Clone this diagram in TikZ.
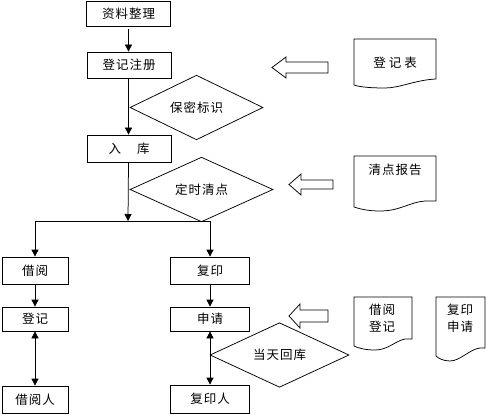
\documentclass[tikz,border=0pt]{standalone}
\usepackage{fontspec}
\newfontfamily\cjk[LetterSpace=8]{Noto Sans CJK SC}
\usetikzlibrary{shapes.geometric,arrows.meta}
\begin{document}
\begin{tikzpicture}[x=1pt,y=-1pt,
  font=\cjk\fontsize{12.5}{15}\selectfont,
  line width=0.75pt,
  box/.style={draw,rectangle,inner sep=0pt},
  dia/.style={draw,diamond,inner sep=0pt},
  arr/.style={-{Triangle[width=7pt,length=7pt]}},
  darr/.style={{Triangle[width=7pt,length=7pt]}-{Triangle[width=7pt,length=7pt]}},
  hollow/.style={draw,line width=0.75pt},
  docu/.style={draw,line width=0.75pt}]
\useasboundingbox (0,0) rectangle (486,414);

% main column boxes
\node[box,minimum width=84pt,minimum height=25pt] (zl) at (128.5,13.5) {资料整理};
\node[box,minimum width=84pt,minimum height=26pt] (dj) at (129,65) {登记注册};
\node[box,minimum width=84pt,minimum height=27pt] (rk) at (129,148.5) {入\hspace{16pt}库};

% diamonds
\node[dia,minimum width=133pt,minimum height=57pt] (bm) at (196.5,107.5) {保密标识};
\node[dia,minimum width=143pt,minimum height=53pt] (ds) at (201.5,189.5) {定时清点};
\node[dia,minimum width=139pt,minimum height=54pt] (dt) at (279.5,355) {当天回库};

% branches
\node[box,minimum width=66pt,minimum height=27pt] (jy) at (35,270.5) {借阅};
\node[box,minimum width=66pt,minimum height=24pt] (dj2) at (35,319) {登记};
\node[box,minimum width=66pt,minimum height=27pt] (jyr) at (35,399.5) {借阅人};
\node[box,minimum width=79pt,minimum height=27pt] (fy) at (210,270.5) {复印};
\node[box,minimum width=79pt,minimum height=24pt] (sq) at (210,319) {申请};
\node[box,minimum width=79pt,minimum height=28pt] (fyr) at (210,399) {复印人};

\coordinate (br) at (128,221);

% connectors
\draw[arr,shorten <=3pt] (zl.south) -- (zl.south |- dj.north);
\draw[arr] (dj.south -| zl.south) -- (rk.north -| zl.south);
\draw[arr] (rk.south -| zl.south) -- (br);
\draw[arr] (br) -| (jy.north);
\draw[arr] (br) -| (fy.north);
\draw[arr] (jy) -- (dj2);
\draw[darr] (dj2) -- (jyr);
\draw[arr] (fy) -- (sq);
\draw[darr] (sq) -- (fyr);

% hollow block arrows
\draw[hollow] (272,67.5) -- (286,57) -- (286,62) -- (328,62) -- (328,73) -- (286,73) -- (286,78) -- cycle;
\draw[hollow] (289,184.5) -- (301,174) -- (301,180) -- (333,180) -- (333,189) -- (301,189) -- (301,195) -- cycle;
\draw[hollow] (289,316) -- (300,304) -- (300,310) -- (328,310) -- (328,322) -- (300,322) -- (300,328) -- cycle;

% documents
\draw[docu] (354,39) -- (436,39) -- (436,79) .. controls (415,80) and (400,88) .. (385,88) .. controls (370,88) and (360,87) .. (354,85) -- cycle;
\node (t1) at (395,63) {登\hspace{3pt}记\hspace{3pt}表};

\draw[docu] (354,156) -- (436,156) -- (436,201) -- (425,201) .. controls (410,202) and (400,211) .. (380,211) .. controls (368,211) and (360,209) .. (354,207) -- cycle;
\node (t2) at (395,170) {清点报告};

\draw[docu] (354,297) -- (412,297) -- (412,339) -- (405,339) .. controls (395,341) and (388,350) .. (375,350) .. controls (365,350) and (358,348) .. (354,346) -- cycle;
\node[align=center,inner sep=0pt] (t3) at (382,318) {借阅\\[2pt]登记};

\draw[docu] (436,297) -- (485,297) -- (485,348) -- (480,348) .. controls (470,349) and (460,361) .. (450,361) .. controls (443,361) and (438,358) .. (436,356) -- cycle;
\node[align=center,inner sep=0pt] (t4) at (460,318) {复印\\[2pt]申请};
\end{tikzpicture}
\end{document}
